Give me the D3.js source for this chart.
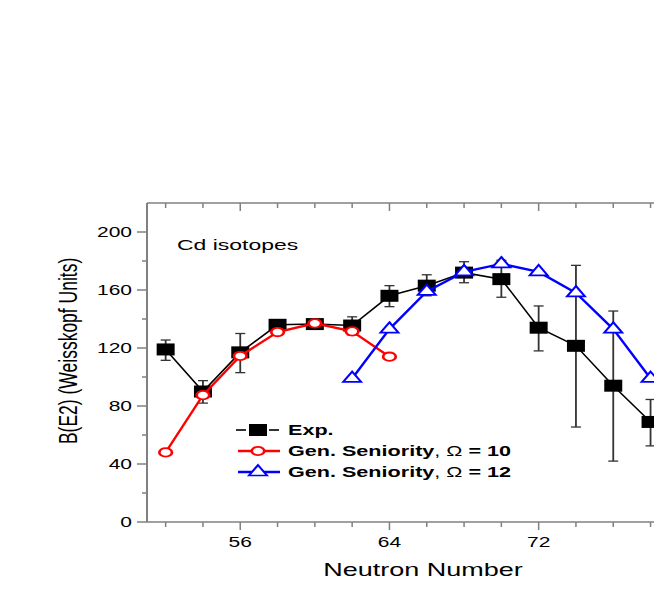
<!DOCTYPE html>
<html><head><meta charset="utf-8">
<script src="https://cdn.jsdelivr.net/npm/d3@7"></script>
<style>body{margin:0;background:#fff;}svg{display:block;font-family:Arial,"Liberation Sans",sans-serif;}</style>
</head><body>
<script>
const neutrons = [52,54,56,58,60,62,64,66,68,70,72,74,76,78];
const expValues = [119,90,117,136,136.5,135.5,156,163,172,167.5,134,121.5,94,69];
const expErrTop = [125.5,97.5,130,139,138.5,141.5,163,170.5,179.5,180.5,149,177,145.5,84.5];
const expErrBottom = [111.5,82,103,133,134.5,129,148.5,156,165,155,118,65.5,42,52.5];
const omega10N = [52,54,56,58,60,62,64];
const omega10Values = [48,87.5,114.5,131,137,131.5,114];
const omega12N = [62,64,66,68,70,72,74,76,78];
const omega12Values = [99,133,159,172.5,178,172.5,158,133,99];
const xMajorTicks = [56,64,72];
const xMinorTicks = [52,54,58,60,62,66,68,70,74,76,78];
const yMajorTicks = [0,40,80,120,160,200];
const yMinorTicks = [20,60,100,140,180];

const W = 654, H = 599, SX = 1.5;
const svg = d3.select("body").append("svg").attr("width", W).attr("height", H);
const x = d3.scaleLinear().domain([51, 80]).range([147, 147 + 29 * 18.65]);
const y = d3.scaleLinear().domain([0, 220]).range([522, 203]);
const axisCol = "#808080";

// axes lines
const g = svg.append("g");
g.append("line").attr("x1", x(51)).attr("x2", x(80)).attr("y1", y(0)).attr("y2", y(0)).attr("stroke", axisCol).attr("stroke-width", 1.5);
g.append("line").attr("x1", x(51)).attr("x2", x(80)).attr("y1", y(220)).attr("y2", y(220)).attr("stroke", axisCol).attr("stroke-width", 1.5);
g.append("line").attr("x1", x(51)).attr("x2", x(51)).attr("y1", y(0)).attr("y2", y(220)).attr("stroke", axisCol).attr("stroke-width", 2);

// x ticks bottom (outward) and top (inward)
xMajorTicks.forEach(v => {
  g.append("line").attr("x1", x(v)).attr("x2", x(v)).attr("y1", y(0)).attr("y2", y(0) + 8).attr("stroke", axisCol).attr("stroke-width", 1.5);
  g.append("line").attr("x1", x(v)).attr("x2", x(v)).attr("y1", y(220)).attr("y2", y(220) + 8).attr("stroke", axisCol).attr("stroke-width", 1.5);
  g.append("text").attr("transform", `translate(${x(v)},${y(0) + 25}) scale(${SX},1)`).attr("text-anchor", "middle").attr("font-size", 14).text(v);
});
xMinorTicks.forEach(v => {
  g.append("line").attr("x1", x(v)).attr("x2", x(v)).attr("y1", y(0)).attr("y2", y(0) + 5).attr("stroke", axisCol).attr("stroke-width", 1.5);
  g.append("line").attr("x1", x(v)).attr("x2", x(v)).attr("y1", y(220)).attr("y2", y(220) + 5).attr("stroke", axisCol).attr("stroke-width", 1.5);
});
yMajorTicks.forEach(v => {
  g.append("line").attr("x1", x(51) - 10).attr("x2", x(51)).attr("y1", y(v)).attr("y2", y(v)).attr("stroke", axisCol).attr("stroke-width", 1.5);
  g.append("text").attr("transform", `translate(${x(51) - 15},${y(v) + 5}) scale(${SX},1)`).attr("text-anchor", "end").attr("font-size", 14).text(v);
});
yMinorTicks.forEach(v => {
  g.append("line").attr("x1", x(51) - 5).attr("x2", x(51)).attr("y1", y(v)).attr("y2", y(v)).attr("stroke", axisCol).attr("stroke-width", 1.5);
});

// axis titles
svg.append("text").attr("transform", `translate(${x(65.8)},576) scale(${SX},1)`).attr("text-anchor", "middle").attr("font-size", 18).text("Neutron Number");
svg.append("text").attr("transform", `translate(77,${y(118)}) scale(${SX},1) rotate(-90)`).attr("text-anchor", "middle").attr("font-size", 17.5).text("B(E2) (Weisskopf Units)");
svg.append("text").attr("transform", `translate(177,250) scale(${SX},1)`).attr("font-size", 15.3).text("Cd isotopes");

// series lines
const lineGen = d3.line().x(d => x(d[0])).y(d => y(d[1]));
const expData = neutrons.map((n, i) => [n, expValues[i]]);
const o10 = omega10N.map((n, i) => [n, omega10Values[i]]);
const o12 = omega12N.map((n, i) => [n, omega12Values[i]]);

svg.append("path").attr("d", lineGen(expData)).attr("fill", "none").attr("stroke", "#000").attr("stroke-width", 1.6);
// error bars
neutrons.forEach((n, i) => {
  const eg = svg.append("g").attr("stroke", "#333");
  eg.append("line").attr("x1", x(n)).attr("x2", x(n)).attr("y1", y(expErrTop[i])).attr("y2", y(expErrBottom[i])).attr("stroke-width", 1.8);
  [expErrTop[i], expErrBottom[i]].forEach(v => eg.append("line").attr("x1", x(n) - 5).attr("x2", x(n) + 5).attr("y1", y(v)).attr("y2", y(v)).attr("stroke-width", 1.3));
});
const sq = d3.symbol().type(d3.symbolSquare).size(144);
const circ = d3.symbol().type(d3.symbolCircle).size(Math.PI * 4.2 * 4.2);
const tri = d3.symbol().type(d3.symbolTriangle).size(62);
svg.selectAll(".sq").data(expData).enter().append("path").attr("d", sq())
  .attr("transform", d => `translate(${x(d[0])},${y(d[1])}) scale(${SX},1)`).attr("fill", "#000");

svg.append("path").attr("d", lineGen(o10)).attr("fill", "none").attr("stroke", "#ff0000").attr("stroke-width", 2.4);
svg.selectAll(".ci").data(o10).enter().append("path").attr("d", circ())
  .attr("transform", d => `translate(${x(d[0])},${y(d[1])}) scale(${SX},1)`).attr("fill", "#fff").attr("stroke", "#ff0000").attr("stroke-width", 1.8);

svg.append("path").attr("d", lineGen(o12)).attr("fill", "none").attr("stroke", "#0000ff").attr("stroke-width", 2.4);
svg.selectAll(".tr").data(o12).enter().append("path").attr("d", tri())
  .attr("transform", d => `translate(${x(d[0])},${y(d[1])}) scale(${SX},1)`).attr("fill", "#fff").attr("stroke", "#0000ff").attr("stroke-width", 1.6);

// legend
const legend = [
  {color: "#000", sym: sq, fill: "#000", sw: 0, bold: "Exp.", rest: null, num: null, lw: 1.6},
  {color: "#ff0000", sym: circ, fill: "#fff", sw: 1.8, bold: "Gen. Seniority", rest: ", Ω ", num: "= 10", lw: 2.4},
  {color: "#0000ff", sym: tri, fill: "#fff", sw: 1.6, bold: "Gen. Seniority", rest: ", Ω ", num: "= 12", lw: 2.4}
];
const legY = [430, 451, 472];
legend.forEach((L, i) => {
  const cy = legY[i];
  const lg = svg.append("g");
  if (i === 0) {
    lg.append("line").attr("x1", 236).attr("x2", 246).attr("y1", cy).attr("y2", cy).attr("stroke", L.color).attr("stroke-width", L.lw);
    lg.append("line").attr("x1", 269).attr("x2", 279).attr("y1", cy).attr("y2", cy).attr("stroke", L.color).attr("stroke-width", L.lw);
  } else {
    lg.append("line").attr("x1", 238).attr("x2", 280).attr("y1", cy).attr("y2", cy).attr("stroke", L.color).attr("stroke-width", L.lw);
  }
  lg.append("path").attr("d", L.sym()).attr("transform", `translate(258,${cy}) scale(${SX},1)`)
    .attr("fill", L.fill).attr("stroke", L.sw ? L.color : "none").attr("stroke-width", L.sw);
  const t = lg.append("text").attr("transform", `translate(288,${cy + 5}) scale(${SX},1)`).attr("font-size", 14.4);
  t.append("tspan").attr("font-weight", "bold").text(L.bold);
  if (L.rest) {
    t.append("tspan").text(L.rest);
    t.append("tspan").attr("font-weight", "bold").text(L.num);
  }
});
</script>
</body></html>
